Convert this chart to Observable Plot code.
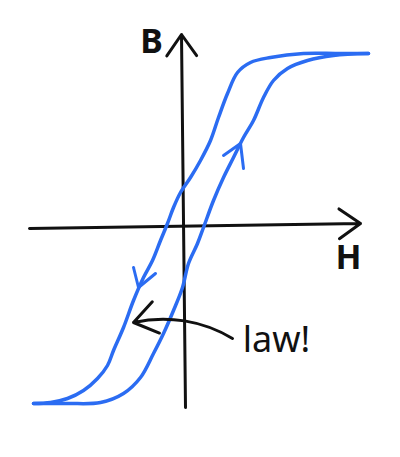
<!DOCTYPE html>
<html>
<head>
<meta charset="utf-8">
<script src="https://cdn.jsdelivr.net/npm/d3@7"></script>
<script src="https://cdn.jsdelivr.net/npm/@observablehq/plot@0.6"></script>
<style>
  html, body { margin: 0; padding: 0; background: #fff; }
  #chart { width: 400px; height: 457px; }
</style>
</head>
<body>
<div id="chart"></div>
<script>
// Hysteresis loop, H (field) vs B (flux density), arbitrary units
const descendingH = [18.5, 15.4, 12.0, 8.7, 6.7, 5.4, 4.4, 3.5, 2.7, 1.7, 0.7, -0.3, -1.0, -1.6, -2.3, -3.1, -4.0, -5.0, -6.0, -7.0, -7.6, -8.6, -10.0, -11.6, -13.3, -15.0];
const descendingB = [17.3, 17.3, 17.3, 16.9, 16.4, 15.4, 13.3, 10.9, 8.6, 6.6, 4.9, 3.4, 1.9, 0.3, -1.4, -3.4, -5.1, -7.4, -10.1, -12.4, -13.9, -15.2, -16.4, -17.2, -17.6, -17.7];
const ascendingH = [-15.0, -11.6, -8.3, -6.0, -4.3, -3.0, -2.0, -1.0, -0.1, 0.5, 1.4, 2.0, 3.0, 4.0, 5.0, 6.0, 7.0, 8.0, 9.0, 10.4, 12.4, 15.0, 18.5];
const ascendingB = [-17.7, -17.7, -17.6, -16.7, -15.1, -12.7, -10.7, -8.4, -6.1, -3.7, -1.7, -0.1, 2.6, 4.9, 6.9, 8.9, 10.6, 12.9, 14.6, 15.8, 16.6, 17.1, 17.3];

// direction markers on the loop: tip and two wing ends
const markerTipH = [5.7, -4.5];
const markerTipB = [8.3, -6.1];
const markerWing1H = [4.0, -5.0];
const markerWing1B = [7.1, -4.1];
const markerWing2H = [6.0, -2.8];
const markerWing2B = [5.8, -4.7];

// axis labels
const axisLabels = ["B", "H"];
const axisLabelH = [-3.2, 16.5];
const axisLabelB = [18.4, -3.2];

// annotation
const noteText = "law!";
const noteH = 9.3;
const noteB = -11.4;
const notePointerFrom = [4.9, -11.2];
const notePointerTo = [-5.0, -9.6];

const blue = "#2b6cf2";

const descending = descendingH.map((h, i) => ({H: h, B: descendingB[i]}));
const ascending = ascendingH.map((h, i) => ({H: h, B: ascendingB[i]}));
const wings = [];
markerTipH.forEach((h, i) => {
  wings.push({x1: markerWing1H[i], y1: markerWing1B[i], x2: h, y2: markerTipB[i]});
  wings.push({x1: markerWing2H[i], y1: markerWing2B[i], x2: h, y2: markerTipB[i]});
});
const labels = axisLabels.map((t, i) => ({t, H: axisLabelH[i], B: axisLabelB[i]}));

const plot = Plot.plot({
  width: 400,
  height: 457,
  margin: 0,
  x: {domain: [-18.3, 21.7], axis: null},
  y: {domain: [-23.1, 22.6], axis: null},
  style: {background: "#fff"},
  marks: [
    // axes
    Plot.arrow([{x1: 0.2, y1: -18.1, x2: -0.2, y2: 19.2}], {
      x1: "x1", y1: "y1", x2: "x2", y2: "y2",
      stroke: "#111", strokeWidth: 3, headLength: 13, headAngle: 70
    }),
    Plot.arrow([{x1: -15.4, y1: -0.2, x2: 17.7, y2: 0.3}], {
      x1: "x1", y1: "y1", x2: "x2", y2: "y2",
      stroke: "#111", strokeWidth: 3, headLength: 13, headAngle: 70
    }),
    // loop
    Plot.line(descending, {x: "H", y: "B", stroke: blue, strokeWidth: 3.5, curve: "catmull-rom", strokeLinecap: "round"}),
    Plot.line(ascending, {x: "H", y: "B", stroke: blue, strokeWidth: 3.5, curve: "catmull-rom", strokeLinecap: "round"}),
    Plot.link(wings, {x1: "x1", y1: "y1", x2: "x2", y2: "y2", stroke: blue, strokeWidth: 3, strokeLinecap: "round"}),
    // annotation pointer
    Plot.arrow([{x1: notePointerFrom[0], y1: notePointerFrom[1], x2: notePointerTo[0], y2: notePointerTo[1]}], {
      x1: "x1", y1: "y1", x2: "x2", y2: "y2",
      stroke: "#111", strokeWidth: 3, bend: -22, headLength: 14, headAngle: 70
    }),
    // labels
    Plot.text(labels, {x: "H", y: "B", text: "t", fontSize: 34, fontWeight: "bold", fill: "#111", fontFamily: "Noto Sans"}),
    Plot.text([noteText], {x: () => noteH, y: () => noteB, text: d => d, fontSize: 36, fill: "#111", fontFamily: "Noto Sans", textAnchor: "middle"})
  ]
});
document.getElementById("chart").appendChild(plot);
</script>
</body>
</html>
